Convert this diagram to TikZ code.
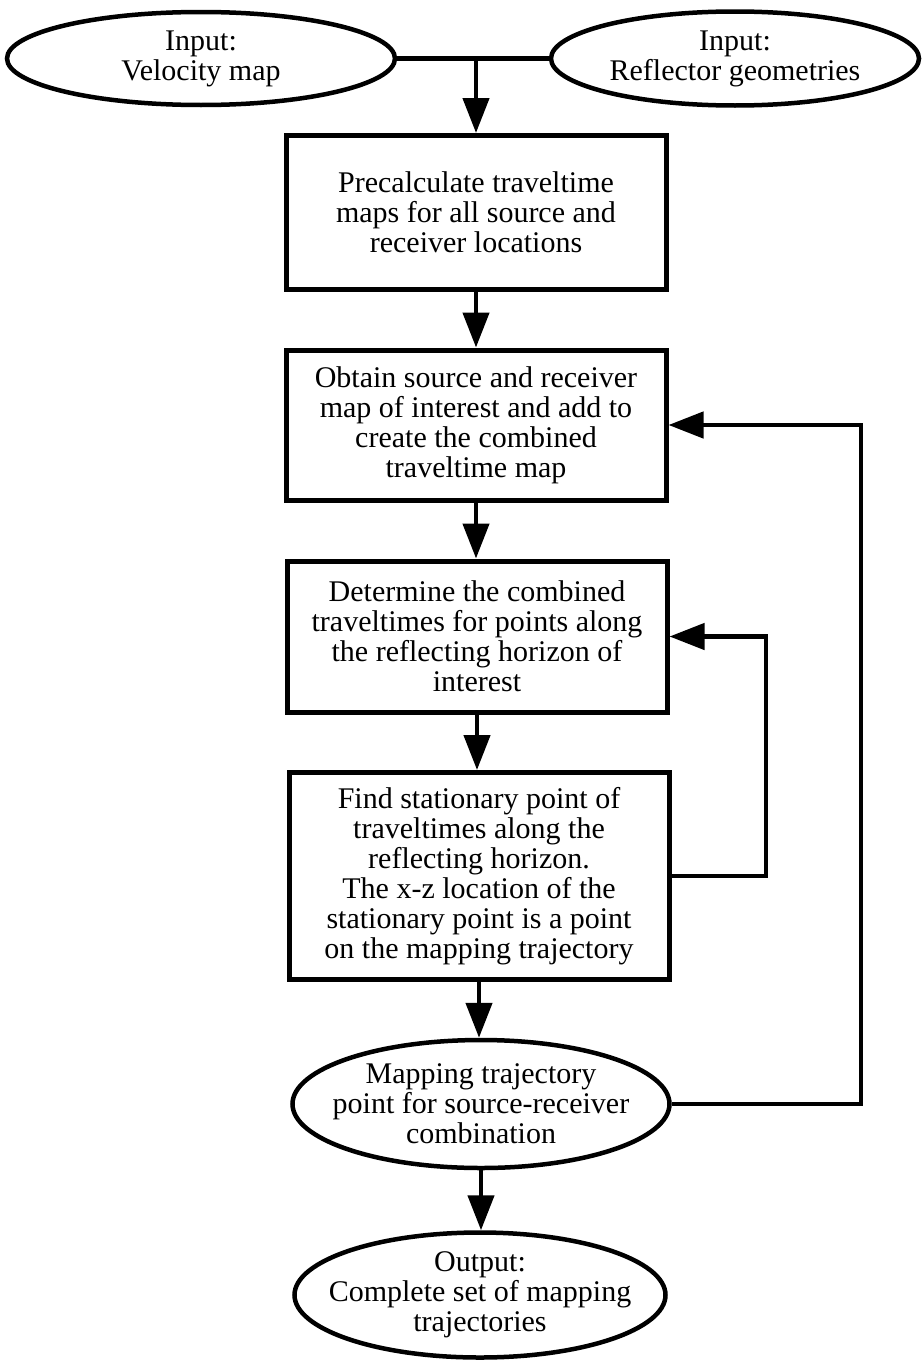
\documentclass[tikz,border=0pt]{standalone}
\usepackage{fontspec}
\setmainfont{Liberation Serif}
\usetikzlibrary{shapes.geometric,arrows.meta}
\begin{document}
\begin{tikzpicture}[x=1pt,y=-1pt,
  every node/.style={font=\fontsize{30}{30}\selectfont, align=center},
  procbox/.style={draw, line width=5pt, rectangle, minimum width=380pt, inner sep=0pt},
  ovalbox/.style={draw, line width=4.5pt, ellipse, inner xsep=-30pt, inner ysep=-10pt},
  link/.style={line width=4.5pt},
  arr/.style={line width=4.5pt, -{Triangle[length=35pt,width=26pt]}},
]
\fill[white] (0,0) rectangle (923,1365);
\useasboundingbox (0,0) rectangle (923,1365);

\node[ovalbox, minimum width=388pt, minimum height=93pt] (in1) at (201,58.5) {Input:\\Velocity map};
\node[ovalbox, minimum width=368pt, minimum height=94pt] (in2) at (735,58.5) {Input:\\Reflector geometries};
\node[procbox, minimum height=154pt] (b1) at (476,212.5) {Precalculate traveltime\\maps for all source and\\receiver locations};
\node[procbox, minimum height=150pt] (b2) at (476,425) {Obtain source and receiver\\map of interest and add to\\create the combined\\traveltime map};
\node[procbox, minimum height=151pt] (b3) at (477,636.5) {Determine the combined\\traveltimes for points along\\the reflecting horizon of\\interest};
\node[procbox, minimum height=207pt] (b4) at (479,876) {Find stationary point of\\traveltimes along the\\reflecting horizon.\\The x-z location of the\\stationary point is a point\\on the mapping trajectory};
\node[ovalbox, minimum width=377pt, minimum height=128pt] (mp) at (481,1104) {Mapping trajectory\\point for source-receiver\\combination};
\node[ovalbox, minimum width=371pt, minimum height=125pt] (out) at (480,1295) {Output:\\Complete set of mapping\\trajectories};

\coordinate (outer) at (861,0);
\coordinate (inner) at (766,0);

\draw[link] (in1.east) -- (in2.west);
\draw[arr] (b1.north |- in1.east) -- (b1.north);
\draw[arr] (b1.south) -- (b1.south |- b2.north);
\draw[arr] (b2.south) -- (b2.south |- b3.north);
\draw[arr] (b3.south) -- (b3.south |- b4.north);
\draw[arr] (b4.south) -- (b4.south |- mp.north);
\draw[arr] (mp.south) -- (mp.south |- out.north);
\draw[arr] (mp.east) -- (mp.east -| outer) -- (outer |- b2.east) -- (b2.east);
\draw[arr] (b4.east) -- (b4.east -| inner) -- (inner |- b3.east) -- (b3.east);
\end{tikzpicture}
\end{document}
